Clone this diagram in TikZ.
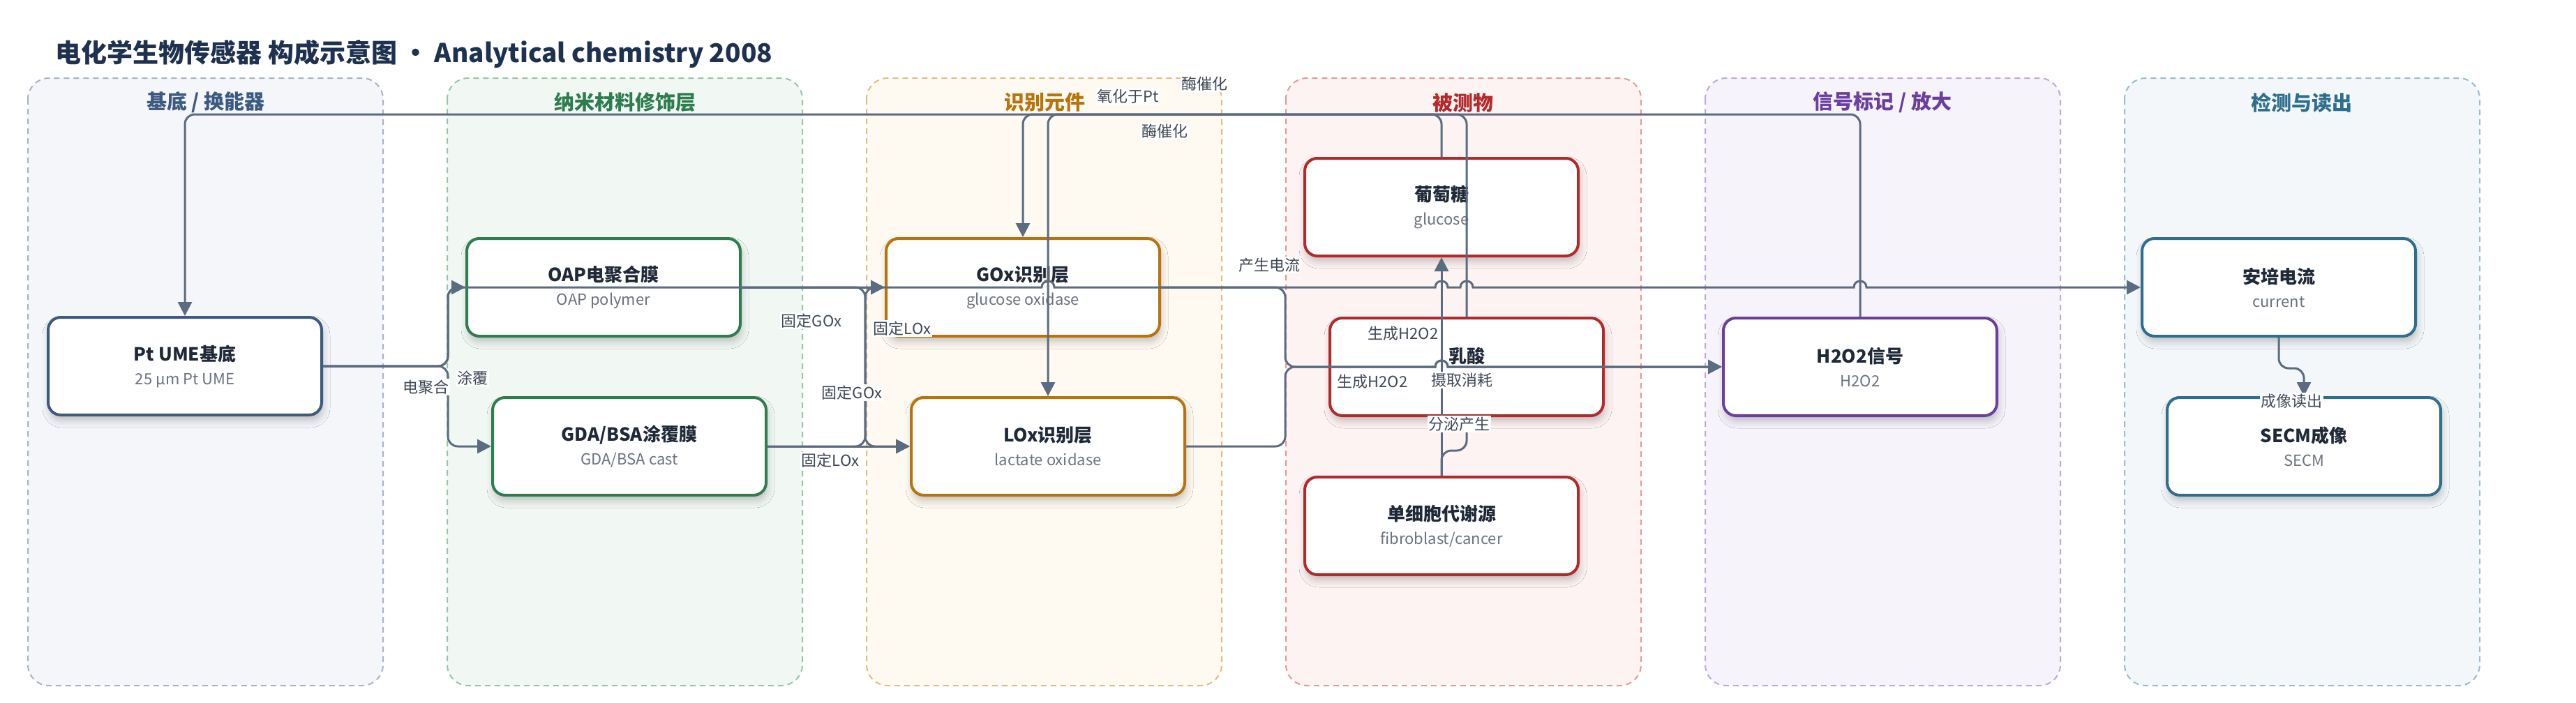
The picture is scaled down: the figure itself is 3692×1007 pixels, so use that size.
\documentclass[tikz,border=0pt]{standalone}
\usepackage{fontspec}
\setmainfont{Noto Sans CJK SC}
\usepackage{tikz}
\usetikzlibrary{arrows.meta,shadows.blur,positioning}

\definecolor{edgegray}{HTML}{5B6B80}
\definecolor{titlenavy}{HTML}{1E3150}
\definecolor{inktext}{HTML}{1F2937}
\definecolor{subgray}{HTML}{6B7280}
\definecolor{labelgray}{HTML}{3F4856}
\definecolor{laneAfill}{HTML}{F4F6FA}
\definecolor{laneAline}{HTML}{A7B3C6}
\definecolor{laneAtext}{HTML}{3D5A80}
\definecolor{laneBfill}{HTML}{F1F8F3}
\definecolor{laneBline}{HTML}{97C5A7}
\definecolor{laneBtext}{HTML}{2E7D4F}
\definecolor{laneCfill}{HTML}{FEF9F1}
\definecolor{laneCline}{HTML}{E2BD7F}
\definecolor{laneCtext}{HTML}{B8740A}
\definecolor{laneDfill}{HTML}{FDF3F2}
\definecolor{laneDline}{HTML}{E29B9B}
\definecolor{laneDtext}{HTML}{B22A2A}
\definecolor{laneEfill}{HTML}{F7F3FB}
\definecolor{laneEline}{HTML}{BFA8DB}
\definecolor{laneEtext}{HTML}{6B3FA0}
\definecolor{laneFfill}{HTML}{F3F7F9}
\definecolor{laneFline}{HTML}{99BDCB}
\definecolor{laneFtext}{HTML}{2E6F8E}

\tikzstyle{lane} = [rounded corners=30pt, dash pattern=on 8pt off 6pt, line width=2pt]
\tikzstyle{lanetitle} = [font=\bfseries\fontsize{29}{34}\selectfont]
\tikzstyle{box} = [draw, fill=white, rounded corners=18pt, line width=4pt, minimum width=392pt, minimum height=140pt, align=center, text=inktext, font=\fontsize{22}{34}\selectfont, blur shadow={shadow xshift=2pt, shadow yshift=-8pt, shadow blur radius=10pt, shadow opacity=22}]
\tikzstyle{link} = [line width=3pt, draw=edgegray, rounded corners=14pt]
\tikzstyle{arrow} = [link, -{Triangle[length=20pt,width=20pt]}]
\tikzstyle{lbl} = [fill=white, inner sep=1.5pt, text=labelgray, font=\fontsize{22}{26}\selectfont]

\newcommand{\nodetext}[2]{{\bfseries\fontsize{26}{34}\selectfont #1}\\{\color{subgray}#2}}

\begin{document}
\begin{tikzpicture}[x=1pt,y=-1pt]
\useasboundingbox (0,0) rectangle (3692,1007);
\fill[white] (0,0) rectangle (3692,1007);

\node[anchor=west, text=titlenavy, font=\bfseries\fontsize{37}{42}\selectfont] (title) at (76,77) {电化学生物传感器 构成示意图 · Analytical chemistry 2008};

% lanes
\draw[lane, draw=laneAline, fill=laneAfill] (40,112) rectangle (549,983);
\draw[lane, draw=laneBline, fill=laneBfill] (641,112) rectangle (1150,983);
\draw[lane, draw=laneCline, fill=laneCfill] (1242,112) rectangle (1751,983);
\draw[lane, draw=laneDline, fill=laneDfill] (1843,112) rectangle (2352,983);
\draw[lane, draw=laneEline, fill=laneEfill] (2444,112) rectangle (2953,983);
\draw[lane, draw=laneFline, fill=laneFfill] (3045,112) rectangle (3554,983);
\node[lanetitle, text=laneAtext] (laneA) at (295,147) {基底 / 换能器};
\node[lanetitle, text=laneBtext] (laneB) at (896,147) {纳米材料修饰层};
\node[lanetitle, text=laneCtext] (laneC) at (1497,147) {识别元件};
\node[lanetitle, text=laneDtext] (laneD) at (2097,147) {被测物};
\node[lanetitle, text=laneEtext] (laneE) at (2698,147) {信号标记 / 放大};
\node[lanetitle, text=laneFtext] (laneF) at (3299,147) {检测与读出};

% nodes
\node[box, draw=laneAtext] (pt) at (265,525) {\nodetext{Pt UME基底}{25 μm Pt UME}};
\node[box, draw=laneBtext] (oap) at (865,412) {\nodetext{OAP电聚合膜}{OAP polymer}};
\node[box, draw=laneBtext] (gda) at (902,640) {\nodetext{GDA/BSA涂覆膜}{GDA/BSA cast}};
\node[box, draw=laneCtext] (gox) at (1466,412) {\nodetext{GOx识别层}{glucose oxidase}};
\node[box, draw=laneCtext] (lox) at (1502,640) {\nodetext{LOx识别层}{lactate oxidase}};
\node[box, draw=laneDtext] (glu) at (2066,297) {\nodetext{葡萄糖}{glucose}};
\node[box, draw=laneDtext] (lac) at (2102,526) {\nodetext{乳酸}{\phantom{lactate}}};
\node[box, draw=laneDtext] (cell) at (2066,754) {\nodetext{单细胞代谢源}{fibroblast/cancer}};
\node[box, draw=laneEtext] (hto) at (2666,526) {\nodetext{H2O2信号}{H2O2}};
\node[box, draw=laneFtext] (amp) at (3266,412) {\nodetext{安培电流}{current}};
\node[box, draw=laneFtext] (secm) at (3302,640) {\nodetext{SECM成像}{SECM}};

\coordinate (top) at (0,164);
\coordinate (fanA) at (642,0);
\coordinate (fanB) at (1240,0);
\coordinate (fanC) at (1842,0);

% connectors
\draw[arrow] (pt.east) -- (pt.east -| fanA) |- (oap.west);
\draw[arrow] (pt.east) -- (pt.east -| fanA) |- (gda.west);
\draw[arrow] (oap.east) -- (gox.west);
\draw[arrow] (oap.east) -- (oap.east -| fanB) |- (lox.west);
\draw[arrow] (gda.east) -- (gda.east -| fanB) |- (gox.west);
\draw[arrow] (gda.east) -- (lox.west);
\draw[arrow] (glu.north) -- (glu.north |- top) -| (gox.north);
\draw[arrow] (lac.north) -- (lac.north |- top) -| (lox.north);
\draw[arrow] (hto.north) -- (hto.north |- top) -| (pt.north);
\draw[arrow] (cell.north) -- (glu.south);
\draw[arrow] (cell.north) -- ++(0,-36) -| (lac.south);
\draw[arrow] (amp.south) -- ++(0,44) -| (secm.north);
\draw[arrow] (pt.east) -- (pt.east -| fanA) -- (fanA |- oap.west) -- (1480,412) [sharp corners] -- (1493,412)
  .. controls (1493,400) and (1511,400) .. (1511,412) -- (2057,412)
  .. controls (2057,400) and (2075,400) .. (2075,412) -- (2093,412)
  .. controls (2093,400) and (2111,400) .. (2111,412) -- (2657,412)
  .. controls (2657,400) and (2675,400) .. (2675,412) -- (amp.west);
\draw[arrow] (gox.east) -- (gox.east -| fanC) -- (fanC |- hto.west) -- (2040,526) [sharp corners] -- (2057,526)
  .. controls (2057,514) and (2075,514) .. (2075,526) -- (hto.west);
\draw[arrow] (lox.east) -- (lox.east -| fanC) -- (fanC |- hto.west) -- (2040,526) [sharp corners] -- (2057,526)
  .. controls (2057,514) and (2075,514) .. (2075,526) -- (hto.west);

% labels
\node[lbl] (l-poly) at (610,555) {电聚合};
\node[lbl] (l-cast) at (677,542) {涂覆};
\node[lbl] (l-gox1) at (1163,460) {固定GOx};
\node[lbl] (l-gox2) at (1221,563) {固定GOx};
\node[lbl] (l-lox1) at (1190,660) {固定LOx};
\node[lbl] (l-lox2) at (1293,471) {固定LOx};
\node[lbl] (l-oxpt) at (1617,138) {氧化于Pt};
\node[lbl] (l-enz1) at (1669,188) {酶催化};
\node[lbl] (l-enz2) at (1726,120) {酶催化};
\node[lbl] (l-curr) at (1819,380) {产生电流};
\node[lbl] (l-h2o2a) at (2011,478) {生成H2O2};
\node[lbl] (l-h2o2b) at (1967,547) {生成H2O2};
\node[lbl] (l-uptake) at (2095,545) {摄取消耗};
\node[lbl] (l-secrete) at (2091,608) {分泌产生};
\node[lbl] (l-image) at (3284,575) {成像读出};
\end{tikzpicture}
\end{document}
